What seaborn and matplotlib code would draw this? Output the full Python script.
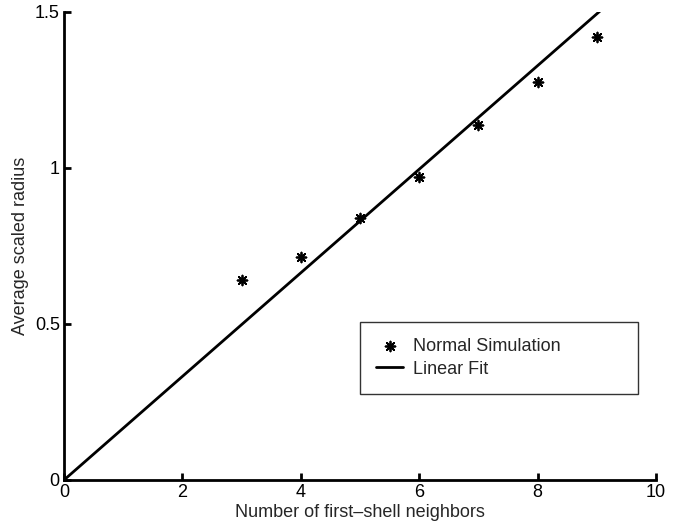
import numpy as np
import pandas as pd
import matplotlib
matplotlib.use("Agg")
import matplotlib.pyplot as plt
import seaborn as sns

# Data
neighbors = [3, 4, 5, 6, 7, 8, 9]
avg_radius = [0.641, 0.714, 0.839, 0.972, 1.138, 1.277, 1.421]
fit_slope = 0.166
fit_x = [0, 10]
x_ticks = [0, 2, 4, 6, 8, 10]
y_ticks = [0, 0.5, 1, 1.5]
y_tick_labels = ["0", "0.5", "1", "1.5"]

sns.set_theme(style="white")
plt.rcParams["font.family"] = ["Liberation Sans", "DejaVu Sans"]

fig = plt.figure(figsize=(6.79, 5.27), dpi=100)
ax = fig.add_axes([64 / 679, 47 / 527, 592 / 679, 468 / 527])

pts = pd.DataFrame({"x": neighbors, "y": avg_radius})
fit = pd.DataFrame({"x": fit_x, "y": [fit_slope * v for v in fit_x]})

sns.lineplot(data=fit, x="x", y="y", ax=ax, color="black", linewidth=2.0,
             label="Linear Fit", zorder=2)
sns.scatterplot(data=pts, x="x", y="y", ax=ax, marker=(8, 2, 0), s=50,
                color="black", edgecolor="black", linewidth=1.3,
                label="Normal Simulation", zorder=3)

ax.set_xlim(0, 10)
ax.set_ylim(0, 1.5)
ax.set_xticks(x_ticks)
ax.set_xticklabels([str(t) for t in x_ticks])
ax.set_yticks(y_ticks)
ax.set_yticklabels(y_tick_labels)
ax.set_xlabel("Number of first\u2013shell neighbors", fontsize=13, labelpad=2)
ax.set_ylabel("Average scaled radius", fontsize=13, labelpad=4)

for side in ["top", "right"]:
    ax.spines[side].set_visible(False)
for side in ["left", "bottom"]:
    ax.spines[side].set_color("black")
    ax.spines[side].set_linewidth(2.0)
ax.tick_params(axis="both", direction="in", length=5, width=2, colors="black",
               labelsize=13, pad=3, left=True, bottom=True)

handles, labels = ax.get_legend_handles_labels()
order = [labels.index("Normal Simulation"), labels.index("Linear Fit")]
leg = ax.legend([handles[i] for i in order], [labels[i] for i in order],
                loc="lower left", bbox_to_anchor=(0.5, 0.184, 0.47, 0.151),
                mode="expand", fontsize=13, frameon=True, fancybox=False,
                borderpad=0.9, handlelength=1.5, handletextpad=0.55,
                labelspacing=0.3, borderaxespad=0)
leg.get_frame().set_edgecolor("black")
leg.get_frame().set_linewidth(1.0)

fig.savefig("out.png", dpi=100)
